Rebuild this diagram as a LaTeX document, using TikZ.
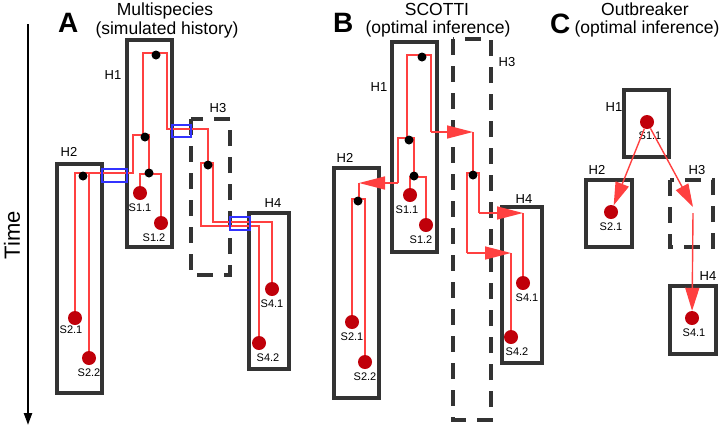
\documentclass[tikz,border=0pt]{standalone}
\usepackage{fontspec}
\setmainfont{Liberation Sans}
\usetikzlibrary{arrows.meta,positioning}
\definecolor{boxgrey}{RGB}{51,51,51}
\definecolor{linered}{RGB}{255,64,64}
\definecolor{sampred}{RGB}{192,0,10}
\definecolor{xferblue}{RGB}{51,51,255}
\tikzset{
  hostbox/.style={draw=boxgrey, line width=3.2pt},
  hostdash/.style={hostbox, dash pattern=on 16pt off 11pt},
  lineage/.style={draw=linered, line width=1.5pt},
  xfer/.style={draw=xferblue, line width=2.6pt},
  infer/.style={-{Triangle[length=26pt,width=13pt]}, linered},
  inferC/.style={draw=linered, line width=1.4pt, -{Triangle[length=23pt,width=14pt]}},
  sample/.style={circle, fill=sampred, inner sep=0pt, minimum size=14pt},
  split/.style={circle, fill=black, inner sep=0pt, minimum size=9pt},
  hostlab/.style={font=\fontsize{13}{15}\selectfont},
  samplab/.style={font=\fontsize{11}{13}\selectfont},
  title/.style={font=\fontsize{17.5}{20}\selectfont, anchor=base, inner sep=0pt},
  paneltag/.style={font=\fontsize{28}{30}\selectfont\bfseries, anchor=base west, inner sep=0pt},
}
\begin{document}
\begin{tikzpicture}[x=1pt,y=-1pt]
\useasboundingbox (0,0) rectangle (719,429);

% time axis
\coordinate (t0) at (28,24);
\coordinate (t1) at (28,425);
\draw[line width=2.2pt, -{Triangle[length=12pt,width=8pt]}] (t0) -- (t1);
\node[rotate=90, font=\fontsize{22}{26}\selectfont] (time) at (12,235) {Time};

% panel A
\node[paneltag] (tagA) at (58,32) {A};
\node[title] (ttlA1) at (165,15) {Multispecies};
\node[title] (ttlA2) at (167,34) {(simulated history)};
\draw[hostbox] (127,40) rectangle (172,247);
\draw[hostbox] (57,164) rectangle (102,393);
\draw[hostdash] (191,119) rectangle (230,275);
\draw[hostbox] (249,213) rectangle (289,369);
\node[hostlab] (hA1) at (113,75) {H1};
\node[hostlab] (hA2) at (69,152) {H2};
\node[hostlab] (hA3) at (218,108) {H3};
\node[hostlab] (hA4) at (273,203) {H4};
\node[sample, label={[samplab]below:S1.1}] (sA11) at (140,193) {};
\node[sample, label={[samplab,xshift=-7pt]below:S1.2}] (sA12) at (161,223) {};
\node[sample, label={[samplab,xshift=-4pt,yshift=3pt]below:S2.1}] (sA21) at (75,318) {};
\node[sample, label={[samplab]below:S2.2}] (sA22) at (89,358) {};
\node[sample, label={[samplab]below:S4.1}] (sA41) at (272,289) {};
\node[sample, label={[samplab,xshift=9pt]below:S4.2}] (sA42) at (259,343) {};
\draw[lineage] (143,135) |- (167,53) |- (208,129) -- (208,163);
\draw[lineage] (sA21) |- (133,173) |- (149,135) -- (149,174);
\draw[lineage] (89,173) -- (sA22);
\draw[lineage] (sA11) |- (161,174) -- (sA12);
\draw[lineage] (sA42) |- (201,226) |- (213,163) |- (272,222) -- (sA41);
\draw[xfer] (102,169) rectangle (127,182);
\draw[xfer] (172,125) rectangle (191,137);
\draw[xfer] (230,217) rectangle (250,230);
\node[split] (kA1) at (156,55) {};
\node[split] (kA2) at (145,137) {};
\node[split] (kA3) at (149,173) {};
\node[split] (kA4) at (83,176) {};
\node[split] (kA5) at (208,165) {};

% panel B
\node[paneltag] (tagB) at (333,32) {B};
\node[title] (ttlB1) at (437,15) {SCOTTI};
\node[title] (ttlB2) at (438,33) {(optimal inference)};
\draw[hostbox] (392,42) rectangle (437,252);
\draw[hostbox] (334,168) rectangle (379,398);
\draw[hostdash] (453,39) rectangle (491,420);
\draw[hostbox] (502,207) rectangle (542,363);
\node[hostlab] (hB1) at (379,87) {H1};
\node[hostlab] (hB2) at (345,158) {H2};
\node[hostlab] (hB3) at (507,62) {H3};
\node[hostlab] (hB4) at (524,199) {H4};
\node[sample, label={[samplab,xshift=-3pt]below:S1.1}] (sB11) at (410,195) {};
\node[sample, label={[samplab,xshift=-5pt]below:S1.2}] (sB12) at (426,225) {};
\node[sample, label={[samplab]below:S2.1}] (sB21) at (352,322) {};
\node[sample, label={[samplab]below:S2.2}] (sB22) at (365,362) {};
\node[sample, label={[samplab,xshift=4pt]below:S4.1}] (sB41) at (523,283) {};
\node[sample, label={[samplab,xshift=6pt]below:S4.2}] (sB42) at (511,337) {};
\draw[lineage] (407,138) |- (431,55) -- (431,132);
\draw[lineage, infer] (431,132) -- (473,132);
\draw[lineage] (473,132) -- (473,173);
\draw[lineage] (sB11) |- (426,177) -- (sB12);
\draw[lineage] (414,177) |- (398,138) -- (398,183);
\draw[lineage, infer] (398,183) -- (359,183);
\draw[lineage] (359,183) -- (359,199);
\draw[lineage] (sB21) |- (365,199) -- (sB22);
\draw[lineage] (467,253) |- (479,173) -- (479,213);
\draw[lineage, infer] (479,213) -- (523,213);
\draw[lineage] (523,213) -- (sB41);
\draw[lineage, infer] (467,253) -- (511,253);
\draw[lineage] (511,253) -- (sB42);
\node[split] (kB1) at (422,57) {};
\node[split] (kB2) at (409,140) {};
\node[split] (kB3) at (414,176) {};
\node[split] (kB4) at (358,201) {};
\node[split] (kB5) at (473,175) {};

% panel C
\node[paneltag] (tagC) at (550,33) {C};
\node[title] (ttlC1) at (645,15) {Outbreaker};
\node[title] (ttlC2) at (647,33) {(optimal inference)};
\draw[hostbox] (624,90) rectangle (669,157);
\draw[hostbox] (586,180) rectangle (632,247);
\draw[hostdash] (670,180) rectangle (713,247);
\draw[hostbox] (670,286) rectangle (716,354);
\node[hostlab] (hC1) at (614,107) {H1};
\node[hostlab] (hC2) at (597,170) {H2};
\node[hostlab] (hC3) at (697,170) {H3};
\node[hostlab] (hC4) at (708,276) {H4};
\node[sample] (sC11) at (647,122) {};
\node[sample, label={[samplab]below:S2.1}] (sC21) at (611,212) {};
\node[sample, label={[samplab,xshift=2pt]below:S4.1}] (sC41) at (692,318) {};
\node[samplab] (lC11) at (650,136) {S1.1};
\coordinate (cH3) at (693,210);
\draw[inferC] (sC11) -- (sC21);
\draw[inferC] (sC11) -- ([yshift=3pt]cH3);
\draw[inferC] ([yshift=-3pt]cH3) -- (sC41);
\end{tikzpicture}
\end{document}
